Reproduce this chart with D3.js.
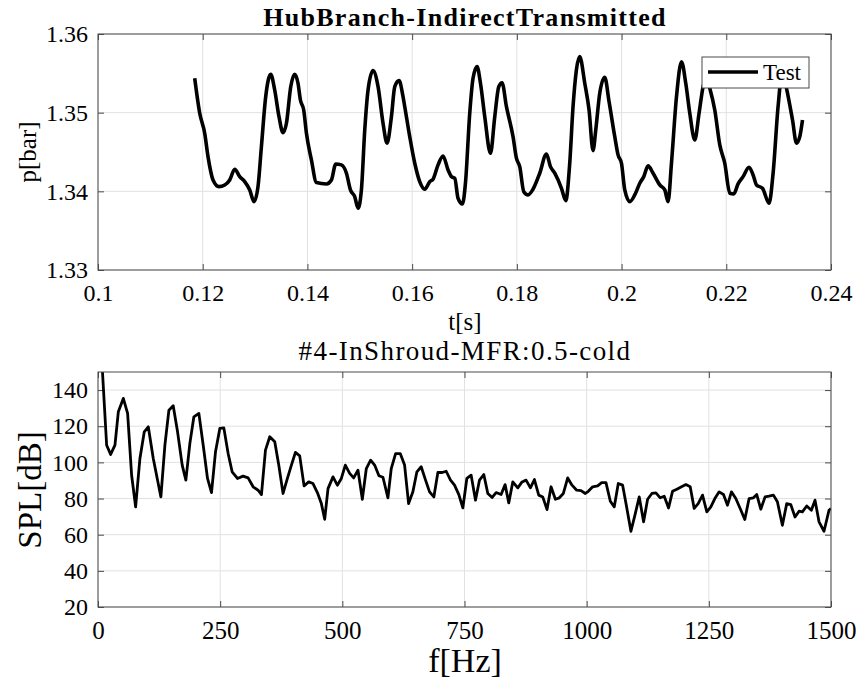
<!DOCTYPE html>
<html lang="en">
<head>
    <meta charset="UTF-8">
    <title>HubBranch-IndirectTransmitted</title>
    <script src="https://cdn.jsdelivr.net/npm/d3@7/dist/d3.min.js"></script>
    <style>
        body { margin: 0; background: #fff; }
        text { font-family: "Liberation Serif", "DejaVu Serif", serif; fill: #000; }
    </style>
</head>
<body>
    <div class="chart"></div>
</body>
<script>
    // top plot: pressure trace
    const timeS = [
        0.11847, 0.11943, 0.12038, 0.12101, 0.12197, 0.12311, 0.12420, 0.12516, 0.12611, 0.12707,
        0.12802, 0.12898, 0.12980, 0.13056, 0.13121, 0.13203, 0.13299, 0.13375, 0.13457, 0.13534,
        0.13599, 0.13681, 0.13757, 0.13820, 0.13866, 0.13929, 0.13981, 0.14076, 0.14172, 0.14363,
        0.14458, 0.14541, 0.14649, 0.14745, 0.14821, 0.14903, 0.14967, 0.15031, 0.15095, 0.15158,
        0.15253, 0.15349, 0.15444, 0.15521, 0.15604, 0.15668, 0.15750, 0.15826, 0.15859, 0.15954,
        0.16050, 0.16145, 0.16241, 0.16336, 0.16399, 0.16495, 0.16590, 0.16686, 0.16751, 0.16814,
        0.16877, 0.16961, 0.17018, 0.17100, 0.17163, 0.17240, 0.17305, 0.17387, 0.17496, 0.17578,
        0.17654, 0.17717, 0.17801, 0.17927, 0.17992, 0.18055, 0.18132, 0.18214, 0.18309, 0.18437,
        0.18565, 0.18642, 0.18724, 0.18852, 0.18934, 0.19010, 0.19073, 0.19201, 0.19297, 0.19379,
        0.19455, 0.19507, 0.19583, 0.19679, 0.19761, 0.19870, 0.19933, 0.19998, 0.20061, 0.20157,
        0.20252, 0.20348, 0.20424, 0.20506, 0.20602, 0.20730, 0.20825, 0.20888, 0.20953, 0.21049,
        0.21144, 0.21226, 0.21303, 0.21398, 0.21480, 0.21557, 0.21618, 0.21685, 0.21780, 0.21876,
        0.21971, 0.22067, 0.22143, 0.22225, 0.22321, 0.22435, 0.22512, 0.22577, 0.22691, 0.22817,
        0.22894, 0.22989, 0.23070, 0.23150, 0.23265, 0.23341, 0.23404, 0.23456
    ]
    const pressureBar = [
        1.35437, 1.34992, 1.34738, 1.34441, 1.34145, 1.34060, 1.34081, 1.34145, 1.34281, 1.34187,
        1.34123, 1.34018, 1.33869, 1.34060, 1.34568, 1.35203, 1.35488, 1.35288, 1.34949, 1.34746,
        1.34865, 1.35330, 1.35488, 1.35374, 1.35161, 1.35034, 1.34738, 1.34399, 1.34111, 1.34094,
        1.34145, 1.34348, 1.34336, 1.34230, 1.34018, 1.33933, 1.33785, 1.34018, 1.34780, 1.35288,
        1.35534, 1.35330, 1.34865, 1.34611, 1.34949, 1.35330, 1.35407, 1.35203, 1.35076, 1.34695,
        1.34357, 1.34123, 1.34027, 1.34123, 1.34154, 1.34336, 1.34450, 1.34272, 1.34187, 1.34167,
        1.33912, 1.33840, 1.34103, 1.34992, 1.35437, 1.35585, 1.35374, 1.34949, 1.34484, 1.34949,
        1.35330, 1.35381, 1.35076, 1.34695, 1.34421, 1.34314, 1.33996, 1.33954, 1.34027, 1.34230,
        1.34475, 1.34314, 1.34230, 1.34039, 1.33882, 1.34357, 1.35076, 1.35712, 1.35374, 1.35034,
        1.34517, 1.34780, 1.35247, 1.35450, 1.35140, 1.34695, 1.34463, 1.34357, 1.34018, 1.33869,
        1.33954, 1.34103, 1.34187, 1.34323, 1.34230, 1.34081, 1.34018, 1.33869, 1.34357, 1.35203,
        1.35648, 1.35374, 1.34992, 1.34653, 1.34992, 1.35330, 1.35454, 1.35310, 1.35034, 1.34590,
        1.34357, 1.33976, 1.33967, 1.34094, 1.34187, 1.34306, 1.34208, 1.34081, 1.34039, 1.33849,
        1.34230, 1.35076, 1.35517, 1.35310, 1.34907, 1.34611, 1.34695, 1.34907
    ]
    const timeTicks = [0.1, 0.12, 0.14, 0.16, 0.18, 0.2, 0.22, 0.24]
    const pressureTicks = [1.33, 1.34, 1.35, 1.36]

    // bottom plot: spectrum
    const freqHz = [
        6, 17.7, 25.9, 34.7, 41.6, 51.8, 60.6, 68.8, 77.0, 85.8, 94.7, 102.9, 113.1, 128.7, 136.9,
        145.1, 153.9, 162.8, 172.3, 179.8, 188.0, 196.2, 206.4, 215.3, 224.1, 232.3, 240.5, 249.3,
        257.5, 266.3, 274.5, 285.4, 297.0, 307.2, 317.4, 327.6, 334.5, 342.7, 351.5, 361.7, 369.9,
        378.7, 387.6, 395.8, 404.0, 412.8, 421.7, 431.2, 440.0, 448.9, 457.1, 463.9, 470.7, 480.9,
        489.8, 498.0, 506.1, 515.0, 523.2, 532.0, 540.9, 549.1, 557.9, 566.1, 574.9, 583.1, 593.3,
        600.1, 609.0, 618.5, 627.4, 635.6, 644.4, 652.6, 661.4, 670.3, 678.5, 687.3, 695.5, 704.4,
        712.5, 721.4, 729.6, 738.4, 746.6, 754.8, 763.6, 772.5, 780.7, 789.5, 797.7, 806.6, 814.7,
        824.9, 833.1, 840.6, 848.8, 859.0, 867.8, 876.0, 884.9, 893.1, 901.9, 910.1, 918.9, 927.1,
        936.0, 944.1, 952.3, 961.2, 970.0, 979.6, 988.4, 997.3, 1003.4, 1012.3, 1022.5, 1030.7,
        1039.5, 1048.4, 1056.5, 1064.7, 1073.6, 1081.7, 1090.6, 1099.5, 1107.6, 1116.5, 1124.7,
        1133.5, 1141.7, 1150.5, 1158.7, 1167.6, 1175.7, 1184.6, 1194.1, 1203.0, 1211.9, 1220.0,
        1228.2, 1237.1, 1245.9, 1254.1, 1262.3, 1271.1, 1280.0, 1288.2, 1296.3, 1305.2, 1314.1,
        1323.6, 1332.4, 1341.3, 1348.1, 1356.3, 1365.1, 1373.3, 1382.2, 1390.3, 1400.5, 1409.4,
        1417.6, 1426.4, 1434.6, 1441.4, 1450.3, 1459.8, 1467.3, 1475.5, 1485.7, 1495.9, 1500
    ]
    const splDb = [
        165, 109.5, 104.4, 109.5, 128.0, 135.4, 127.1, 92.9, 75.4, 102.2, 116.9, 119.7, 102.2, 80.9, 109.5,
        128.9, 131.3, 116.9, 98.5, 90.2, 110.5, 125.2, 127.1, 109.5, 91.1, 83.3, 105.9, 118.8,
        119.1, 104.9, 94.8, 91.1, 92.4, 91.4, 86.5, 84.6, 82.2, 106.8, 114.2, 111.4, 98.5,
        82.8, 91.1, 98.5, 105.5, 103.6, 87.0, 89.2, 88.3, 83.3, 77.2, 68.5, 85.5, 92.0,
        87.4, 91.1, 98.5, 93.9, 91.4, 95.7, 79.6, 96.6, 101.2, 98.5, 92.6, 91.8, 80.4,
        96.6, 104.9, 104.9, 98.5, 77.2, 83.7, 94.8, 97.6, 90.2, 83.7, 80.9, 94.4, 94.4,
        95.1, 90.2, 87.4, 82.2, 74.8, 91.1, 92.9, 79.1, 90.2, 93.3, 82.8, 80.6, 83.3,
        82.2, 87.7, 77.6, 89.2, 85.9, 89.2, 90.2, 85.9, 90.5, 81.9, 80.9, 73.9, 86.5,
        79.6, 80.4, 82.8, 91.4, 87.4, 84.6, 84.4, 82.8, 84.0, 86.5, 87.0, 88.8,
        88.8, 78.5, 75.4, 88.3, 87.4, 75.4, 61.9, 71.7, 80.9, 67.1, 79.6,
        82.8, 83.1, 80.4, 81.3, 74.8, 84.0, 85.2, 86.5, 87.7, 86.5, 74.5,
        77.2, 81.9, 72.6, 75.4, 80.0, 83.7, 82.2, 76.3, 83.7, 80.0, 74.5,
        68.4, 80.0, 80.4, 82.2, 74.1, 80.9, 81.3, 81.9, 78.2, 65.2, 77.2,
        76.7, 69.8, 73.0, 72.6, 75.9, 73.5, 79.1, 67.1, 61.9, 73.5, 74.5
    ]
    const freqTicks = [0, 250, 500, 750, 1000, 1250, 1500]
    const splTicks = [20, 40, 60, 80, 100, 120, 140]

    const width = 857
    const height = 682
    const left = 98
    const right = 831
    const topBox = { top: 34, bottom: 270 }
    const botBox = { top: 372, bottom: 607 }
    const tickLen = 6
    const gridColor = '#e1e1e1'
    const boxColor = '#4a4a4a'

    const svg = d3.select('.chart')
        .append('svg')
        .attr('width', width)
        .attr('height', height)

    function drawPanel(opt) {
        const x = d3.scaleLinear().domain(opt.xDomain).range([left, right])
        const y = d3.scaleLinear().domain(opt.yDomain).range([opt.bottom, opt.top])
        const g = svg.append('g')

        // grid
        g.append('g').selectAll('line').data(opt.xTicks).enter().append('line')
            .attr('x1', d => x(d)).attr('x2', d => x(d))
            .attr('y1', opt.top).attr('y2', opt.bottom)
            .attr('stroke', gridColor).attr('stroke-width', 1)
        g.append('g').selectAll('line').data(opt.yTicks).enter().append('line')
            .attr('x1', left).attr('x2', right)
            .attr('y1', d => y(d)).attr('y2', d => y(d))
            .attr('stroke', gridColor).attr('stroke-width', 1)

        // inward ticks on all four sides
        const axes = [
            [d3.axisBottom(x).tickValues(opt.xTicks).tickFormat(opt.xFormat), `translate(0,${opt.bottom})`],
            [d3.axisTop(x).tickValues(opt.xTicks).tickFormat(''), `translate(0,${opt.top})`],
            [d3.axisLeft(y).tickValues(opt.yTicks).tickFormat(opt.yFormat), `translate(${left},0)`],
            [d3.axisRight(y).tickValues(opt.yTicks).tickFormat(''), `translate(${right},0)`]
        ]
        axes.forEach(([ax, tr], i) => {
            const a = g.append('g').attr('transform', tr)
                .call(ax.tickSizeInner(-tickLen).tickSizeOuter(0).tickPadding(i === 0 ? opt.xPad : 10))
            a.select('.domain').remove()
            a.selectAll('.tick line').attr('stroke', boxColor)
            a.selectAll('.tick text')
                .style('font-family', '"Liberation Serif", serif')
                .attr('font-size', i < 2 ? opt.xFont : opt.yFont)
                .attr('fill', '#000')
        })

        // clip + line
        const clipId = 'clip' + opt.id
        svg.append('clipPath').attr('id', clipId)
            .append('rect').attr('x', left).attr('y', opt.top)
            .attr('width', right - left).attr('height', opt.bottom - opt.top)
        const line = d3.line().x(d => x(d[0])).y(d => y(d[1])).curve(opt.curve)
        g.append('path')
            .datum(d3.zip(opt.xs, opt.ys))
            .attr('clip-path', `url(#${clipId})`)
            .attr('fill', 'none')
            .attr('stroke', '#000')
            .attr('stroke-width', opt.lineWidth)
            .attr('stroke-linejoin', 'round')
            .attr('d', line)

        // box
        g.append('rect')
            .attr('x', left).attr('y', opt.top)
            .attr('width', right - left).attr('height', opt.bottom - opt.top)
            .attr('fill', 'none').attr('stroke', boxColor).attr('stroke-width', 1)
        return { x, y, g }
    }

    drawPanel({
        id: 'top', top: topBox.top, bottom: topBox.bottom,
        xDomain: [0.1, 0.24], yDomain: [1.33, 1.36],
        xTicks: timeTicks, yTicks: pressureTicks,
        xFormat: d3.format('~g'), yFormat: d3.format('.2f'),
        xFont: '24px', yFont: '24px', xPad: 14,
        xs: timeS, ys: pressureBar, lineWidth: 3.6, curve: d3.curveMonotoneX
    })
    drawPanel({
        id: 'bot', top: botBox.top, bottom: botBox.bottom,
        xDomain: [0, 1500], yDomain: [20, 150],
        xTicks: freqTicks, yTicks: splTicks,
        xFormat: d3.format('d'), yFormat: d3.format('d'),
        xFont: '25px', yFont: '24px', xPad: 14,
        xs: freqHz, ys: splDb, lineWidth: 2.8, curve: d3.curveLinear
    })

    // titles and labels
    svg.append('text').attr('x', 465).attr('y', 26).attr('text-anchor', 'middle')
        .attr('font-size', '26px').attr('font-weight', 'bold').attr('letter-spacing', '1.3px')
        .text('HubBranch-IndirectTransmitted')
    svg.append('text').attr('x', 465).attr('y', 330).attr('text-anchor', 'middle')
        .attr('font-size', '25px').text('t[s]')
    svg.append('text').attr('transform', 'translate(36,152) rotate(-90)').attr('text-anchor', 'middle')
        .attr('font-size', '25px').text('p[bar]')
    svg.append('text').attr('x', 465).attr('y', 360).attr('text-anchor', 'middle')
        .attr('font-size', '27px').attr('letter-spacing', '1.4px').text('#4-InShroud-MFR:0.5-cold')
    svg.append('text').attr('x', 465).attr('y', 672).attr('text-anchor', 'middle')
        .attr('font-size', '34px').text('f[Hz]')
    svg.append('text').attr('transform', 'translate(41,490) rotate(-90)').attr('text-anchor', 'middle')
        .attr('font-size', '33px').text('SPL[dB]')

    // legend
    const legend = svg.append('g')
    legend.append('rect').attr('x', 702).attr('y', 57).attr('width', 107).attr('height', 31)
        .attr('fill', '#fff').attr('stroke', boxColor).attr('stroke-width', 1)
    legend.append('line').attr('x1', 708).attr('x2', 758).attr('y1', 72).attr('y2', 72)
        .attr('stroke', '#000').attr('stroke-width', 3.6)
    legend.append('text').attr('x', 763).attr('y', 80).attr('font-size', '23px').text('Test')
</script>
</html>
